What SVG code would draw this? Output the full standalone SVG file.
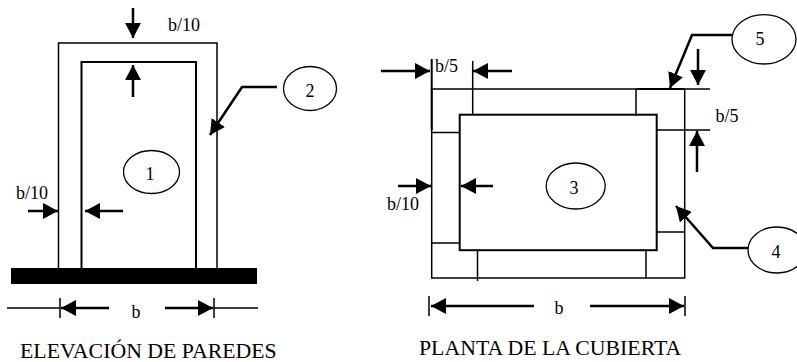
<svg xmlns="http://www.w3.org/2000/svg" width="797" height="362" viewBox="0 0 797 362">
<style>
.l{fill:none;stroke:#000;stroke-width:1.5}
.m{fill:none;stroke:#000;stroke-width:2}
.a{fill:none;stroke:#000;stroke-width:2.500;marker-end:url(#h)}
.e{fill:#fff;stroke:#000;stroke-width:1.300}
text{font-family:"Liberation Serif","Times New Roman",serif;font-size:18px;fill:#000}
.t{font-size:21.800px}
.c{text-anchor:middle}
</style>
<defs>
<marker id="h" markerUnits="userSpaceOnUse" markerWidth="16" markerHeight="16" refX="15" refY="8" orient="auto"><path d="M0 0L15 8L0 16Z" fill="#000"/></marker>
</defs>
<rect width="797" height="362" fill="#fff"/>
<g id="elevacion">
<path class="l" d="M58.500 268V43H217V268"/>
<path class="m" d="M81.500 268V62H196V268"/>
<rect x="11" y="268" width="246" height="16" fill="#000"/>
</g>
<g id="planta">
<rect class="l" x="431.700" y="89" width="253" height="189"/>
<rect class="m" x="459.700" y="114.700" width="197" height="135.500" fill="none"/>
<path class="l" d="M684 89H710M657 130H710M432 132.500H460M657 232H685M432 243H460M472.700 61V115M636 89V116M477.500 250V281M646 250V278"/>
<path class="m" d="M431.700 59V130M636 89H684"/>
</g>
<g id="connectors">
<path class="a" d="M133 8V38"/>
<path class="a" d="M133 97V65"/>
<path class="a" d="M28 211H58"/>
<path class="a" d="M123 211H85"/>
<path class="a" d="M277 87H242L210 135"/>
<path class="l" d="M7 308H60M214 308H258M60 298V318M214 298V318M429 296V316M685 296V316"/>
<path class="a" d="M109 308H61"/>
<path class="a" d="M165 308H213"/>
<path class="a" d="M381 71H430"/>
<path class="a" d="M512 71H473"/>
<path class="a" d="M698 49V85"/>
<path class="a" d="M697 172V131"/>
<path class="a" d="M398 186H431"/>
<path class="a" d="M493 186H461"/>
<path class="a" d="M749 248H713L676 206"/>
<path class="a" d="M732 35H692L670 88"/>
<path class="a" d="M534 306H431"/>
<path class="a" d="M590 306H684"/>
</g>
<g id="n1"><ellipse class="e" cx="151.500" cy="172" rx="28" ry="21.500"/><text class="c" x="150" y="180">1</text></g>
<g id="n2"><ellipse class="e" cx="310" cy="88.500" rx="26.500" ry="22"/><text class="c" x="310" y="97">2</text></g>
<g id="n3"><ellipse class="e" cx="575.700" cy="186" rx="29.500" ry="23"/><text class="c" x="574" y="194">3</text></g>
<g id="n4"><ellipse class="e" cx="777" cy="250" rx="29" ry="23"/><text class="c" x="776" y="258">4</text></g>
<g id="n5"><ellipse class="e" cx="764" cy="39.300" rx="32" ry="24.700"/><text class="c" x="760" y="45">5</text></g>
<g id="labels">
<text x="168" y="31">b/10</text>
<text x="16" y="199">b/10</text>
<text class="c" x="136" y="318">b</text>
<text x="435" y="72">b/5</text>
<text x="715.500" y="122">b/5</text>
<text x="387" y="210">b/10</text>
<text class="c" x="559" y="314">b</text>
<text class="t" x="20" y="358">ELEVACIÓN DE PAREDES</text>
<text class="t" x="419" y="355">PLANTA DE LA CUBIERTA</text>
</g>
</svg>
